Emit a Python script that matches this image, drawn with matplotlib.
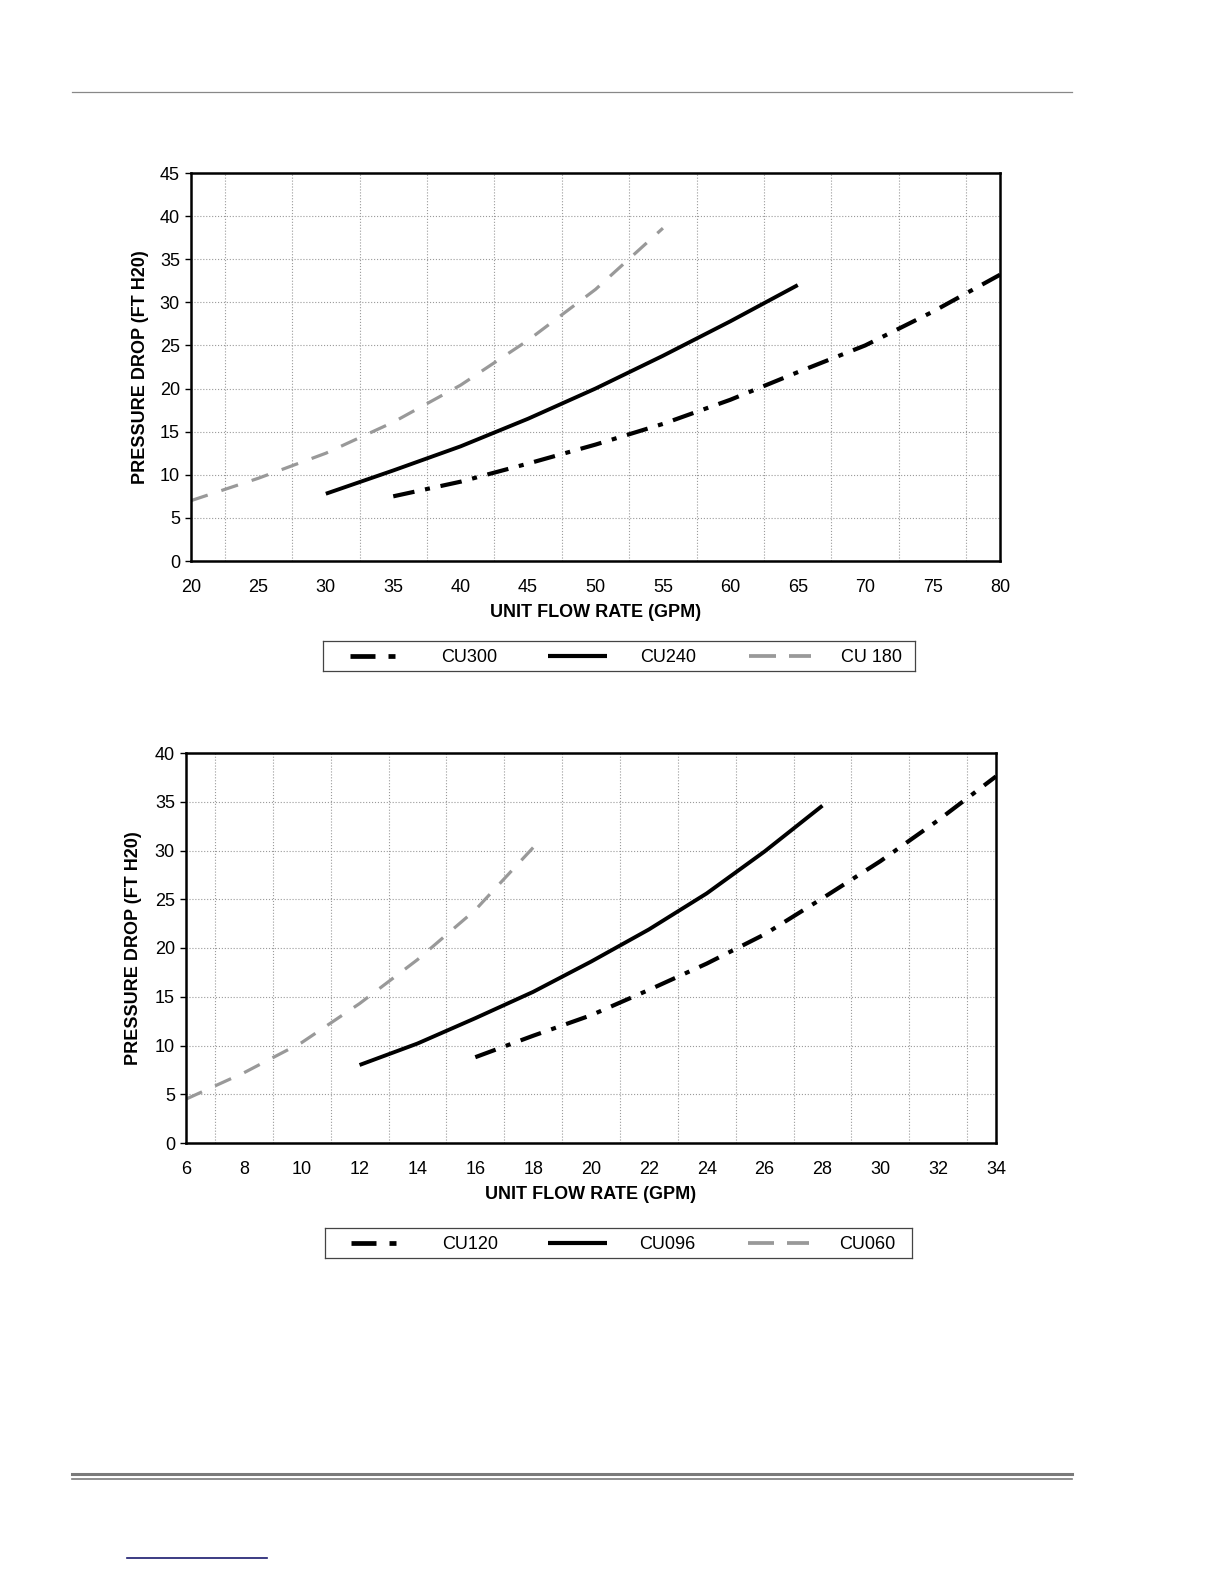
import matplotlib
matplotlib.use("Agg")
import matplotlib.pyplot as plt
from matplotlib.lines import Line2D

plt.rcParams['font.family'] = ['Liberation Sans', 'DejaVu Sans']

# top chart: large units
top_labels = ["CU300", "CU240", "CU 180"]
cu300_x = [35, 40, 45, 50, 55, 60, 65, 70, 75, 80]
cu300_y = [7.5, 9.2, 11.3, 13.5, 15.9, 18.7, 21.9, 25.0, 28.9, 33.2]
cu240_x = [30, 35, 40, 45, 50, 55, 60, 65]
cu240_y = [7.8, 10.5, 13.3, 16.5, 20.0, 23.8, 27.8, 32.0]
cu180_x = [20, 25, 30, 35, 40, 45, 50, 55]
cu180_y = [7.0, 9.6, 12.5, 16.1, 20.4, 25.6, 31.5, 38.6]

# bottom chart: small units
bot_labels = ["CU120", "CU096", "CU060"]
cu120_x = [16, 18, 20, 22, 24, 26, 28, 30, 32, 34]
cu120_y = [8.8, 11.0, 13.1, 15.7, 18.4, 21.4, 25.1, 28.9, 33.1, 37.6]
cu096_x = [12, 14, 16, 18, 20, 22, 24, 26, 28]
cu096_y = [8.0, 10.2, 12.8, 15.5, 18.6, 21.9, 25.6, 29.9, 34.6]
cu060_x = [6, 8, 10, 12, 14, 16, 18]
cu060_y = [4.5, 7.2, 10.3, 14.3, 18.8, 23.9, 30.3]

GRAY = '#999999'
DASHDOT = (0, (5.2, 2.6, 1.2, 2.6))
GRAYDASH = (0, (5.5, 4.5))
styles = [dict(color='black', lw=3.0, linestyle=DASHDOT),
          dict(color='black', lw=2.8, linestyle='-'),
          dict(color=GRAY, lw=2.3, linestyle=GRAYDASH)]

fig = plt.figure(figsize=(12.24, 15.84), dpi=100)


def draw_chart(rect, xlim, ylim, xmajor, xgrid, series, ylabel_x):
	ax = fig.add_axes(rect)
	for (xs, ys), st in zip(series, styles):
		ax.plot(xs, ys, solid_capstyle='butt', dash_capstyle='butt', **st)
	ax.set_xlim(*xlim)
	ax.set_ylim(*ylim)
	ax.set_xticks(xmajor)
	ax.set_xticks(xgrid, minor=True)
	ax.set_yticks(range(ylim[0], ylim[1] + 1, 5))
	ax.grid(which='minor', axis='x', color='#9a9a9a', linestyle=':', lw=0.8)
	ax.grid(which='major', axis='y', color='#9a9a9a', linestyle=':', lw=0.8)
	ax.tick_params(axis='x', which='both', length=0, pad=13, labelsize=13)
	ax.tick_params(axis='y', length=4, width=1, pad=4, labelsize=13)
	for s in ax.spines.values():
		s.set_linewidth(1.8)
	ax.set_xlabel("UNIT FLOW RATE (GPM)", fontsize=13, fontweight='bold', labelpad=6)
	ax.set_ylabel("PRESSURE DROP (FT H20)", fontsize=13, fontweight='bold')
	ax.yaxis.set_label_coords(ylabel_x, 0.5)
	return ax


def draw_legend(rect, labels):
	lg = fig.add_axes(rect)
	lg.set_xlim(0, 1)
	lg.set_ylim(0, 1)
	lg.set_xticks([])
	lg.set_yticks([])
	for s in lg.spines.values():
		s.set_linewidth(0.9)
		s.set_color('#444444')
	starts = [0.045, 0.38, 0.72]
	for x0, lab, st in zip(starts, labels, styles):
		if st['linestyle'] == '-':
			lg.plot([x0, x0 + 0.10], [0.5, 0.5], color='black', lw=3.0, solid_capstyle='butt')
		else:
			# one long and one short piece of the pattern
			w = 0.042 if st['color'] == 'black' else 0.045
			lg.plot([x0, x0 + w], [0.5, 0.5], color=st['color'], lw=st['lw'] + 0.4, solid_capstyle='butt')
			s2 = x0 + w + 0.022
			w2 = 0.012 if st['color'] == 'black' else 0.037
			lg.plot([s2, s2 + w2], [0.5, 0.5], color=st['color'], lw=st['lw'] + 0.4, solid_capstyle='butt')
		lg.text(x0 + 0.155, 0.46, lab, fontsize=13, va='center', ha='left')


W, H = 1224., 1584.

draw_chart([191 / W, 1 - 561 / H, 809 / W, 388 / H], (20, 80), (0, 45),
	range(20, 81, 5), [x / 2 for x in range(40, 161, 5)],
	[(cu300_x, cu300_y), (cu240_x, cu240_y), (cu180_x, cu180_y)], -0.052)
draw_legend([323 / W, 1 - 671 / H, 592 / W, 30 / H], top_labels)

draw_chart([186 / W, 1 - 1143 / H, 810 / W, 390 / H], (6, 34), (0, 40),
	range(6, 35, 2), range(6, 35, 1),
	[(cu120_x, cu120_y), (cu096_x, cu096_y), (cu060_x, cu060_y)], -0.054)
draw_legend([325 / W, 1 - 1258 / H, 587 / W, 30 / H], bot_labels)

# page rules
fig.add_artist(Line2D([72 / W, 1072 / W], [1 - 92 / H, 1 - 92 / H], color='#888888', lw=0.9))
fig.add_artist(Line2D([72 / W, 1072 / W], [1 - 1474 / H, 1 - 1474 / H], color='#7a7a7a', lw=2.2))
fig.add_artist(Line2D([72 / W, 1072 / W], [1 - 1479 / H, 1 - 1479 / H], color='#7a7a7a', lw=1.2))
fig.add_artist(Line2D([127 / W, 267 / W], [1 - 1558 / H, 1 - 1558 / H], color='#1a1a6e', lw=1.2))

fig.savefig("out.png", dpi=100)
